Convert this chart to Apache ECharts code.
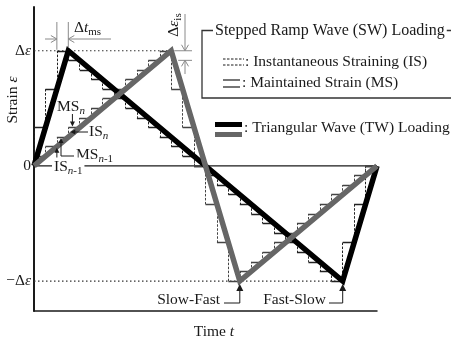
<!DOCTYPE html>
<html>
<head>
<meta charset="utf-8">
<script src="https://cdn.jsdelivr.net/npm/echarts@6/dist/echarts.min.js"></script>
<style>
  html, body { margin: 0; padding: 0; background: #fff; }
  #chart { width: 451px; height: 342px; }
</style>
</head>
<body>
<div id="chart"></div>
<script>
// Triangular wave vertices: [time, strain / Δε]
const fastSlowWave = [[0, 0], [1, 1], [9, -1], [10, 0]];
const slowFastWave = [[0, 0], [4, 1], [6, -1], [10, 0]];
// Number of IS + MS steps on each leg of the matching stepped ramp wave
const fastSlowSteps = [3, 24, 3];
const slowFastSteps = [12, 6, 12];
// Strain axis ticks
const strainTicks = [-1, 0, 1];
const strainTickLabels = ['−Δε', '0', 'Δε'];
// Guide lines
const peakGuide = [[0, 1], [4, 1]];
const troughGuide = [[0, -1], [9, -1]];
const zeroLine = [[0, 0], [10, 0]];

const SERIF = '"Liberation Serif", "DejaVu Serif", serif';
const INK = '#1a1a1a';
const FS = 15.5;

// Split every leg into an instantaneous jump (IS) followed by a held strain (MS)
function steppedRamp(wave, counts) {
  const is = [], ms = [];
  for (let i = 0; i < counts.length; i++) {
    const [t0, e0] = wave[i], [t1, e1] = wave[i + 1];
    const n = counts[i], dt = (t1 - t0) / n, de = (e1 - e0) / n;
    for (let k = 0; k < n; k++) {
      const t = t0 + k * dt, e = e0 + k * de;
      is.push({ coords: [[t, e], [t, e + de]] });
      ms.push({ coords: [[t, e + de], [t + dt, e + de]] });
    }
  }
  return { is, ms };
}

const fsSteps = steppedRamp(fastSlowWave, fastSlowSteps);
const sfSteps = steppedRamp(slowFastWave, slowFastSteps);

const chart = echarts.init(document.getElementById('chart'), null, { renderer: 'canvas' });

function stepSeries(data, dashed, color) {
  return {
    type: 'lines', coordinateSystem: 'cartesian2d', polyline: false, silent: true, z: 2,
    data: data,
    lineStyle: { color: color, width: dashed ? 1 : 1.3, type: dashed ? [2.5, 1.5] : 'solid', opacity: 1 },
    effect: { show: false }
  };
}

chart.setOption({
  animation: false,
  backgroundColor: '#fff',
  grid: { left: 34, top: 7, width: 343, height: 304 },
  xAxis: {
    type: 'value', min: 0, max: 10,
    axisLine: { show: true, onZero: false, lineStyle: { color: INK, width: 1.5 } },
    axisTick: { show: false }, axisLabel: { show: false }, splitLine: { show: false }
  },
  yAxis: {
    type: 'value', min: -1.26, max: 1.38,
    axisLine: { show: true, onZero: false, lineStyle: { color: INK, width: 2 } },
    axisTick: { show: false }, splitLine: { show: false },
    axisLabel: {
      show: true, customValues: strainTicks, margin: 3,
      fontFamily: SERIF, fontSize: FS, color: INK,
      formatter: v => strainTickLabels[strainTicks.indexOf(v)].replace('ε', '{i|ε}'),
      rich: { i: { fontFamily: SERIF, fontSize: FS, fontStyle: 'italic', color: INK } }
    }
  },
  series: [
    { type: 'line', data: zeroLine, symbol: 'none', silent: true, z: 1,
      lineStyle: { color: INK, width: 1.3 } },
    { type: 'line', data: peakGuide, symbol: 'none', silent: true, z: 1,
      lineStyle: { color: '#333', width: 1.2, type: [1.5, 2.5] } },
    { type: 'line', data: troughGuide, symbol: 'none', silent: true, z: 1,
      lineStyle: { color: '#333', width: 1.2, type: [1.5, 2.5] } },
    stepSeries(fsSteps.is, true, '#222'),
    stepSeries(fsSteps.ms, false, '#222'),
    stepSeries(sfSteps.is, true, '#444'),
    stepSeries(sfSteps.ms, false, '#444'),
    { type: 'line', data: fastSlowWave, symbol: 'none', silent: true, z: 3,
      lineStyle: { color: '#000', width: 5.5, join: 'miter', miterLimit: 10 } },
    { type: 'line', data: slowFastWave, symbol: 'none', silent: true, z: 4,
      lineStyle: { color: '#666', width: 5.5, join: 'miter', miterLimit: 10 } }
  ]
});

// ---- annotations ----
const P = (t, e) => chart.convertToPixel({ gridIndex: 0 }, [t, e]);

const RICH = {
  n:    { fontFamily: SERIF, fontSize: FS, lineHeight: 19, fill: INK },
  i:    { fontFamily: SERIF, fontSize: FS, lineHeight: 19, fontStyle: 'italic', fill: INK },
  sub:  { fontFamily: SERIF, fontSize: 11, lineHeight: 11, verticalAlign: 'bottom', fill: INK },
  subi: { fontFamily: SERIF, fontSize: 11, lineHeight: 11, verticalAlign: 'bottom', fontStyle: 'italic', fill: INK }
};

function txt(x, y, text, extra) {
  return Object.assign({
    type: 'text', x: x, y: y, z: 50,
    style: Object.assign({
      text: text, fontFamily: SERIF, fontSize: FS, fill: INK,
      align: 'left', verticalAlign: 'middle', rich: RICH
    }, (extra && extra.style) || {})
  }, (extra && extra.el) || {});
}
function seg(x1, y1, x2, y2, color, w, dash) {
  return { type: 'line', z: 40, shape: { x1, y1, x2, y2 },
    style: { stroke: color || INK, lineWidth: w || 1, lineDash: dash || null } };
}
// open "V" arrow head with its tip at (x, y)
function openHead(x, y, dir, color) {
  const L = 6, W = 3.5;
  const pts = {
    right: [[x - L, y - W], [x, y], [x - L, y + W]],
    left:  [[x + L, y - W], [x, y], [x + L, y + W]],
    down:  [[x - W, y - L], [x, y], [x + W, y - L]],
    up:    [[x - W, y + L], [x, y], [x + W, y + L]]
  }[dir];
  return { type: 'polyline', z: 40, shape: { points: pts }, style: { stroke: color, lineWidth: 1, fill: null } };
}
// filled triangular arrow head with its tip at (x, y)
function solidHead(x, y, dir, L, W) {
  L = L || 5; W = W || 2.5;
  const pts = {
    right: [[x - L, y - W], [x, y], [x - L, y + W]],
    left:  [[x + L, y - W], [x, y], [x + L, y + W]],
    down:  [[x - W, y - L], [x, y], [x + W, y - L]],
    up:    [[x - W, y + L], [x, y], [x + W, y + L]]
  }[dir];
  return { type: 'polygon', z: 41, shape: { points: pts }, style: { fill: INK, stroke: null } };
}

const g = [];
const GREY = '#8a8a8a';

// Δt_ms dimension between the last two MS corners of the fast rise
const xa = P(2 / 3, 1)[0], xb = P(1, 1)[0], yPeak = P(0, 1)[1];
g.push(seg(xa, 22, xa, yPeak - 1, GREY), seg(xb, 22, xb, yPeak - 3, GREY));
g.push(seg(45, 39, xa, 39, GREY), openHead(xa, 39, 'right', GREY));
g.push(seg(xb, 39, 111, 39, GREY), openHead(xb, 39, 'left', GREY));
g.push(txt(74, 28, '{n|Δ}{i|t}{sub|ms}'));

// Δε_is dimension at the top of the slow rise
const [xp, ya] = P(4, 1);
const yb = P(4, 11 / 12)[1];
g.push(seg(xp + 3, ya, 192, ya, GREY), seg(xp + 7, yb, 192, yb, GREY));
g.push(seg(185, 14, 185, ya, GREY), openHead(185, ya, 'down', GREY));
g.push(seg(185, 74, 185, yb, GREY), openHead(185, yb, 'up', GREY));
g.push(txt(174, 25, '{n|Δ}{i|ε}{sub|is}', { style: { align: 'center' }, el: { rotation: Math.PI / 2 } }));

// IS / MS step call-outs on the slow rise
const xMSn = P(1.12, 0)[0], yMSn = P(0, 1 / 3)[1];
g.push(txt(57, 107, '{n|MS}{subi|n}'));
g.push(seg(xMSn, 114, xMSn, yMSn - 4), solidHead(xMSn, yMSn - 1, 'down', 5, 2.5));
const xISn = P(1, 0)[0];
g.push(txt(89, 132, '{n|IS}{subi|n}'));
g.push(seg(88, 132, xISn + 6, 132), solidHead(xISn + 2, 132, 'left', 5, 2.5));
const yMSm = P(0, 0.25)[1];
g.push(seg(61, yMSm + 5, 61, 156), seg(61, 156, 74, 156), solidHead(61, yMSm + 1, 'up', 5, 2.5));
g.push(txt(76, 155, '{n|MS}{subi|n}{sub|-1}'));
const yISm = P(0, 1 / 6)[1];
g.push(seg(xa, yISm + 5, xa, 160), solidHead(xa, yISm + 1, 'up', 5, 2.5));
g.push(txt(52, 167, '{n|IS}{subi|n}{sub|-1}', { style: { backgroundColor: '#fff', padding: [0, 2, 0, 2] }, el: { z: 60 } }));

// loading-order markers under the troughs
const xs = P(6, -1)[0], xf = P(9, -1)[0], yTr = P(0, -1)[1];
g.push(txt(220, 300, 'Slow-Fast', { style: { align: 'right' } }));
g.push({ type: 'polyline', z: 40, shape: { points: [[224, 303], [xs, 303], [xs, yTr + 9]] }, style: { stroke: INK, lineWidth: 1, fill: null } });
g.push(solidHead(xs, yTr + 3, 'up', 7, 3.5));
g.push(txt(326, 300, 'Fast-Slow', { style: { align: 'right' } }));
g.push({ type: 'polyline', z: 40, shape: { points: [[329, 303], [xf, 303], [xf, yTr + 9]] }, style: { stroke: INK, lineWidth: 1, fill: null } });
g.push(solidHead(xf, yTr + 3, 'up', 7, 3.5));

// axis titles
g.push(txt(13, 100, 'Strain {i|ε}', { style: { align: 'center' }, el: { rotation: Math.PI / 2 } }));
g.push(txt(214, 332, 'Time {i|t}', { style: { align: 'center' } }));

// key
g.push({ type: 'rect', z: 30, shape: { x: 202, y: 30.5, width: 260, height: 67.5 },
  style: { stroke: '#333', lineWidth: 1.3, fill: null } });
g.push(txt(213, 31, 'Stepped Ramp Wave (SW) Loading', { style: { fontSize: 16, backgroundColor: '#fff', padding: [0, 2, 0, 2] }, el: { z: 55 } }));
g.push(seg(223, 59, 244, 59, INK, 1, [2.5, 1.5]), seg(223, 65, 244, 65, INK, 1, [2.5, 1.5]));
g.push(txt(245, 62, ': Instantaneous Straining (IS)'));
g.push(seg(223, 80, 240, 80, INK, 1.2), seg(223, 87, 240, 87, INK, 1.2));
g.push(txt(242, 83, ': Maintained Strain (MS)'));
g.push({ type: 'rect', z: 40, shape: { x: 215, y: 122, width: 27, height: 5 }, style: { fill: '#000' } });
g.push({ type: 'rect', z: 40, shape: { x: 215, y: 132, width: 27, height: 5 }, style: { fill: '#666' } });
g.push(txt(244, 128, ': Triangular Wave (TW) Loading'));

chart.setOption({ graphic: { elements: g } });
</script>
</body>
</html>
